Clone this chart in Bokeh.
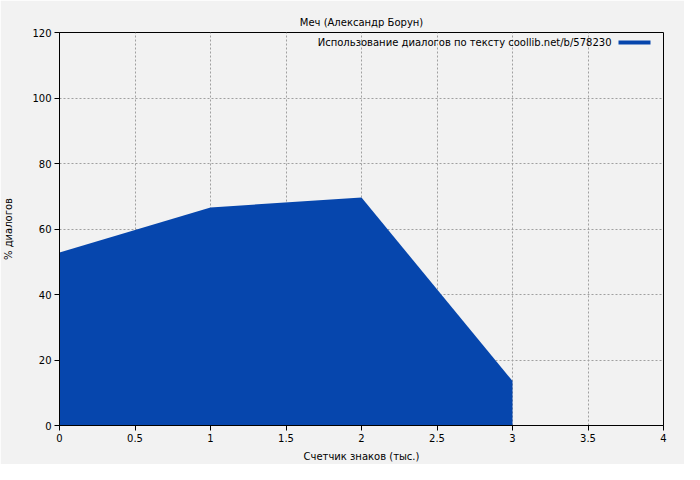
from bokeh.plotting import figure
from bokeh.embed import file_html
from bokeh.resources import INLINE
from bokeh.models import ColumnDataSource, Label, BoxAnnotation, FixedTicker, Range1d

x_vals = [0, 1, 2, 3]
y_vals = [52.8, 66.6, 69.6, 13.6]
x_ticks = [0, 0.5, 1, 1.5, 2, 2.5, 3, 3.5, 4]
y_ticks = [0, 20, 40, 60, 80, 100, 120]
title_text = "Меч (Александр Борун)"
legend_text = "Использование диалогов по тексту coollib.net/b/578230"
x_label = "Счетчик знаков (тыс.)"
y_label = "% диалогов"

FONT = "DejaVu Sans"
BG = "#f2f2f2"
FILL = "#0646ad"

FW, FH = 604, 393

p = figure(frame_width=FW, frame_height=FH, output_backend="svg", toolbar_location=None,
           x_range=Range1d(0, 4), y_range=Range1d(0, 120),
           min_border_left=59, min_border_right=21, min_border_top=32, min_border_bottom=39,
           background_fill_color=BG, border_fill_color=BG, outline_line_color="black",
           outline_line_width=1)

p.title.text = title_text
p.title.align = "center"
p.title.text_font = FONT
p.title.text_font_size = "10px"
p.title.text_font_style = "normal"
p.title.text_color = "black"

src = ColumnDataSource(dict(x=x_vals, y=y_vals))
p.varea(x="x", y1=0, y2="y", source=src, fill_color=FILL, fill_alpha=1.0)

for ax, lab, ticks in ((p.xaxis[0], x_label, x_ticks), (p.yaxis[0], y_label, y_ticks)):
    ax.ticker = FixedTicker(ticks=ticks)
    ax.axis_label = lab
    ax.axis_label_text_font = FONT
    ax.axis_label_text_font_size = "10px"
    ax.axis_label_text_font_style = "normal"
    ax.axis_label_text_color = "black"
    ax.major_label_text_font = FONT
    ax.major_label_text_font_size = "10px"
    ax.major_label_text_color = "black"
    ax.axis_line_color = "black"
    ax.major_tick_line_color = "black"
    ax.major_tick_out = 5
    ax.major_tick_in = 0
    ax.minor_tick_line_color = None
    ax.axis_label_standoff = 6
    ax.major_label_standoff = 3

p.yaxis[0].axis_label_standoff = 15

p.xaxis[0].major_label_overrides = {0: "0", 0.5: "0.5", 1: "1", 1.5: "1.5", 2: "2",
                                    2.5: "2.5", 3: "3", 3.5: "3.5", 4: "4"}

for g in (p.xgrid[0], p.ygrid[0]):
    g.grid_line_color = "#a0a0a0"
    g.grid_line_dash = "2 2"
    g.grid_line_width = 1

# legend (label left of sample, as in reference)
p.add_layout(Label(x=552, y=FH - 10, x_units="screen", y_units="screen", text=legend_text,
                   text_align="right", text_baseline="middle", text_font=FONT,
                   text_font_size="10px", text_color="black"))
p.add_layout(BoxAnnotation(left=559, right=591, bottom=FH - 12, top=FH - 8,
                           left_units="screen", right_units="screen",
                           bottom_units="screen", top_units="screen",
                           fill_color=FILL, fill_alpha=1.0, line_color=None))

open("out.html", "w").write(file_html(p, INLINE))
